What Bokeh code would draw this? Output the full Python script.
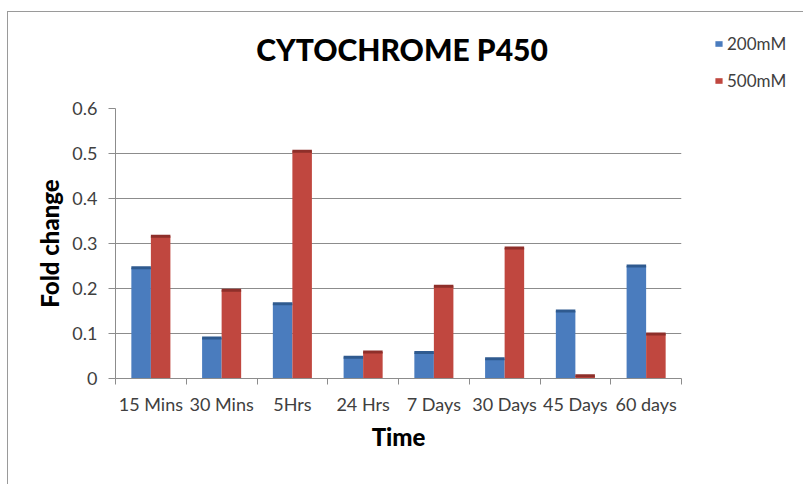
import numpy as np
from bokeh.plotting import figure
from bokeh.layouts import column
from bokeh.models import (Range1d, FixedTicker, Legend, LegendItem, Label,
                          ColumnDataSource)
from bokeh.transform import dodge
from bokeh.embed import file_html
from bokeh.resources import INLINE

# ---- data ----
categories = ["15 Mins", "30 Mins", "5Hrs", "24 Hrs", "7 Days", "30 Days", "45 Days", "60 days"]
series_names = ["200mM", "500mM"]
values_200mM = [0.246, 0.090, 0.166, 0.047, 0.058, 0.044, 0.150, 0.250]
values_500mM = [0.316, 0.196, 0.505, 0.059, 0.205, 0.290, 0.006, 0.099]
y_ticks = [0, 0.1, 0.2, 0.3, 0.4, 0.5, 0.6]
y_tick_labels = ["0", "0.1", "0.2", "0.3", "0.4", "0.5", "0.6"]
title_text = "CYTOCHROME P450"
x_title = "Time"
y_title = "Fold change"

# ---- styling ----
BLUE = "#4a7cbe"
RED = "#c0473f"
BLUE_TOP = "#2f5a8f"
RED_TOP = "#8e2f2a"
GRID = "#8c8c8c"
TXT = "#404040"
HEAVY = "'Lato Black', 'DejaVu Sans'"
LIGHT = "Lato"

W = 795          # width of both figures
HT = 84          # header strip (title + legend)
HM = 388         # main chart
FL, FR, FT, FB = 107, 673, 12, 282  # frame edges inside the main figure

n = len(categories)
centers = [i + 0.5 for i in range(n)]
src = ColumnDataSource(dict(x=centers, cat=categories, a=values_200mM, b=values_500mM))

# ---------------- header strip: title + legend ----------------
# its y range sits above every value, so its two legend renderers stay out of view
ph = figure(width=W, height=HT, output_backend="svg", toolbar_location=None,
            x_range=Range1d(0, W), y_range=Range1d(10, 10 + HT),
            x_axis_type=None, y_axis_type=None,
            min_border_left=0, min_border_right=0, min_border_top=0, min_border_bottom=0,
            background_fill_color="white", border_fill_color="white")
ph.outline_line_color = None
ph.grid.visible = False

# ---------------- main chart ----------------
p = figure(width=W, height=HM, output_backend="svg", toolbar_location=None,
           x_range=Range1d(0, n), y_range=Range1d(0, 0.6),
           min_border_left=FL, min_border_right=W - FR,
           min_border_top=FT, min_border_bottom=HM - FB,
           background_fill_color="white", border_fill_color="white")

# stop the column from lining the header's frame up with the chart's frame
if "frame_align" in ph.properties():
    ph.frame_align = False
    p.frame_align = False
    X0 = 0
else:
    X0 = FL

ph.add_layout(Label(x=393.5 - X0, y=48, x_units="screen", y_units="screen",
                    text=title_text, text_font=HEAVY, text_font_style="bold",
                    text_font_size="30px", text_color="black",
                    text_align="center", text_baseline="middle"))

lg1 = ph.vbar(x="x", top="a", width=0.1, source=src, fill_color=BLUE, line_color=None)
lg2 = ph.vbar(x="x", top="b", width=0.1, source=src, fill_color=RED, line_color=None)
legend = Legend(items=[LegendItem(label=series_names[0], renderers=[lg1]),
                       LegendItem(label=series_names[1], renderers=[lg2])],
                location=(706 - X0, 5), orientation="vertical",
                glyph_width=9, glyph_height=7, label_height=22, spacing=15,
                label_standoff=4, padding=0, margin=0,
                border_line_color=None, background_fill_alpha=0,
                label_text_font=LIGHT, label_text_font_size="17px",
                label_text_color=TXT, label_text_baseline="middle")
ph.add_layout(legend, "center")

p.outline_line_color = None
p.xgrid.visible = False
p.ygrid.grid_line_color = GRID
p.ygrid.grid_line_width = 1

BW = 0.276
OFF = 0.138
p.vbar(x=dodge("x", -OFF), top="a", width=BW, source=src,
       fill_color=BLUE, line_color=None)
p.vbar(x=dodge("x", OFF), top="b", width=BW, source=src,
       fill_color=RED, line_color=None)
p.rect(x=dodge("x", -OFF), y="a", width=BW, height=3, height_units="screen",
       source=src, fill_color=BLUE_TOP, line_color=None)
p.rect(x=dodge("x", OFF), y="b", width=BW, height=3, height_units="screen",
       source=src, fill_color=RED_TOP, line_color=None)

# x axis
xa = p.xaxis[0]
xa.ticker = FixedTicker(ticks=centers, minor_ticks=list(range(n + 1)))
xa.major_label_overrides = {c: cat for c, cat in zip(centers, categories)}
xa.major_tick_out = 0
xa.major_tick_in = 0
xa.minor_tick_out = 6
xa.minor_tick_in = 0
xa.minor_tick_line_color = GRID
xa.axis_line_color = GRID
xa.major_label_text_font = LIGHT
xa.major_label_text_font_size = "18px"
xa.major_label_text_color = TXT
xa.major_label_standoff = 8
xa.axis_label = x_title
xa.axis_label_text_font = HEAVY
xa.axis_label_text_font_style = "bold"
xa.axis_label_text_font_size = "24px"
xa.axis_label_text_color = "black"
xa.axis_label_standoff = 4

# y axis
ya = p.yaxis[0]
ya.ticker = FixedTicker(ticks=y_ticks)
ya.major_label_overrides = {t: l for t, l in zip(y_ticks, y_tick_labels)}
ya.major_tick_out = 7
ya.major_tick_in = 0
ya.minor_tick_out = 0
ya.minor_tick_in = 0
ya.major_tick_line_color = GRID
ya.axis_line_color = GRID
ya.major_label_text_font = LIGHT
ya.major_label_text_font_size = "18px"
ya.major_label_text_color = TXT
ya.major_label_standoff = 11
ya.axis_label = y_title
ya.axis_label_text_font = HEAVY
ya.axis_label_text_font_style = "bold"
ya.axis_label_text_font_size = "24px"
ya.axis_label_text_color = "black"
ya.axis_label_standoff = 5

layout = column(ph, p, spacing=0)
layout.styles = {"margin-left": "7px", "margin-top": "11px",
                 "border-left": "1px solid #9a9a9a", "border-top": "1px solid #9a9a9a"}

open("out.html", "w").write(file_html(layout, INLINE))
